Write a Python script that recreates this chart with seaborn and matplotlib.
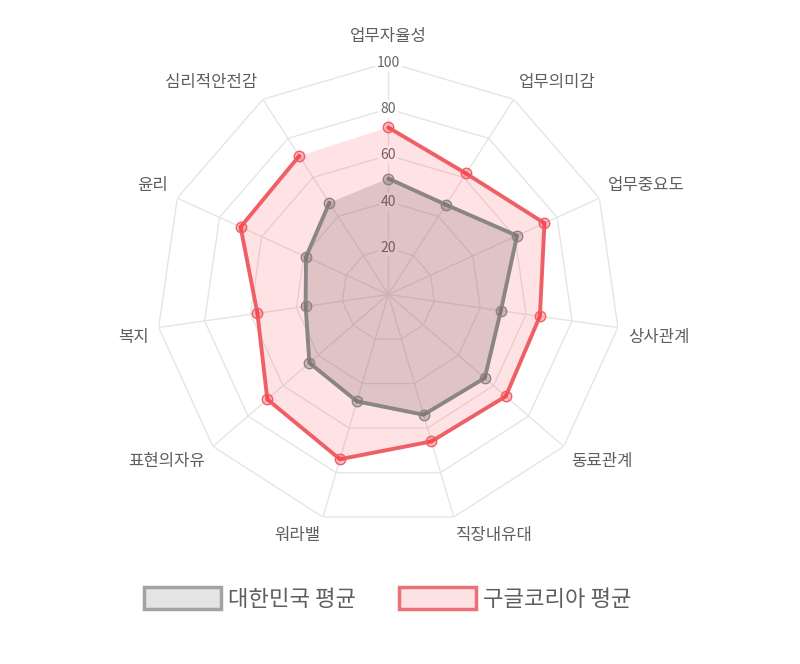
import numpy as np
import matplotlib
matplotlib.use("Agg")
import matplotlib.pyplot as plt
from matplotlib.patches import Patch
import seaborn as sns

categories = ['업무자율성', '업무의미감', '업무중요도', '상사관계', '동료관계', '직장내유대',
              '워라밸', '표현의자유', '복지', '윤리', '심리적안전감']
korea_avg = [50, 46, 61, 49, 55, 54, 48, 45, 36, 39, 47]
google_avg = [72, 62, 74, 66, 67, 66, 74, 69, 57, 70, 71]
series_names = ['대한민국 평균', '구글코리아 평균']
ticks = [20, 40, 60, 80, 100]

sns.set_theme(style='white')
plt.rcParams['font.family'] = ['Noto Sans CJK KR', 'DejaVu Sans']

fig = plt.figure(figsize=(8, 6.64), dpi=100)
fig.patch.set_facecolor('white')
ax = fig.add_axes([0.19538, 0.20707, 0.58, 0.6988], projection='polar')
ax.set_theta_zero_location('N')
ax.set_theta_direction(-1)
ax.set_ylim(0, 100)
ax.grid(False)
ax.set_xticks([])
ax.set_yticks([])
ax.spines['polar'].set_visible(False)
ax.patch.set_alpha(0)

n = len(categories)
theta = np.linspace(0, 2 * np.pi, n, endpoint=False)
theta_c = np.append(theta, theta[0])

grid_col = '#e5e5e5'
for t in ticks:
    ax.plot(theta_c, [t] * (n + 1), color=grid_col, lw=1.0, zorder=1)
for th in theta:
    ax.plot([th, th], [0, 100], color=grid_col, lw=1.0, zorder=1)

for t in ticks:
    ax.text(0, t, str(t), ha='center', va='center', fontsize=10, color='#666666',
            zorder=2, bbox=dict(boxstyle='square,pad=0.15', fc='white', ec='none', alpha=0.9))

red_line = '#ee6066'
red_fill = (1.0, 0.12, 0.16, 0.12)
gray_line = '#8c8585'
gray_fill = (0.45, 0.35, 0.35, 0.22)

for vals, lc, fc, z in [(google_avg, red_line, red_fill, 3), (korea_avg, gray_line, gray_fill, 5)]:
    v = np.append(vals, vals[0])
    ax.fill(theta_c, v, color=fc, lw=0, zorder=z)
    sns.lineplot(x=theta_c, y=v, ax=ax, sort=False, color=lc, lw=2.8, zorder=z + 1,
                 marker='o', markersize=7.5, markerfacecolor=(fc[0], fc[1], fc[2], 0.3),
                 markeredgecolor=lc, markeredgewidth=1.0, legend=False)

for k, (th, lab) in enumerate(zip(theta, categories)):
    s, c = np.sin(th), np.cos(th)
    if abs(s) < 0.01:
        ha = 'center'
    elif s > 0:
        ha = 'left'
    else:
        ha = 'right'
    va = 'bottom' if c > 0 else 'top'
    dist = 10 * 0.72
    dx, dy = s * dist, c * dist
    if k == 0:
        dy = 18 * 0.72
    ax.annotate(lab, xy=(th, 100), xytext=(dx, dy), textcoords='offset points',
                ha=ha, va=va, fontsize=12, color='#5e5e5e', annotation_clip=False)

handles = [Patch(facecolor='#e4e4e4', edgecolor='#a3a3a3', lw=2.5, label=series_names[0]),
           Patch(facecolor='#fde2e4', edgecolor='#ec7075', lw=2.5, label=series_names[1])]
leg = fig.legend(handles=handles, loc='center', bbox_to_anchor=(0.485, 0.098), ncol=2,
                 frameon=False, fontsize=16, handlelength=3.45, handleheight=1.1,
                 handletextpad=0.32, columnspacing=1.95, labelcolor='#5e5e5e')

fig.savefig('out.png', dpi=100, facecolor='white')
